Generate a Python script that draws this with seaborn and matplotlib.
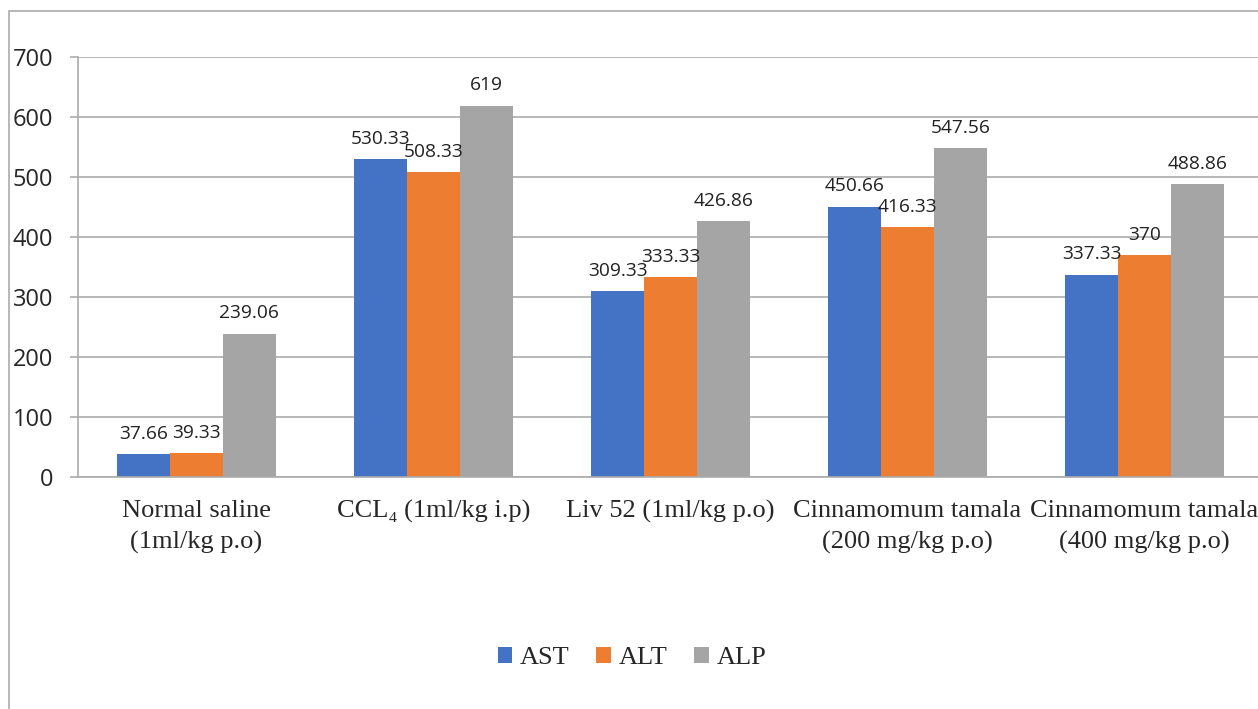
import matplotlib
matplotlib.use("Agg")
import matplotlib.pyplot as plt
import seaborn as sns
import pandas as pd
from matplotlib.patches import Rectangle, Patch

groups = ["Normal saline\n(1ml/kg p.o)", "CCL\u2084 (1ml/kg i.p)", "Liv 52 (1ml/kg p.o)",
          "Cinnamomum tamala\n(200 mg/kg p.o)", "Cinnamomum tamala\n(400 mg/kg p.o)"]
series = ["AST", "ALT", "ALP"]
ast = [37.66, 530.33, 309.33, 450.66, 337.33]
alt = [39.33, 508.33, 333.33, 416.33, 370]
alp = [239.06, 619, 426.86, 547.56, 488.86]
colors = ["#4472C4", "#ED7D31", "#A5A5A5"]
yticks = [0, 100, 200, 300, 400, 500, 600, 700]

rows = []
for name, vals in zip(series, [ast, alt, alp]):
    for g, v in zip(groups, vals):
        rows.append({"group": g, "enzyme": name, "value": v})
df = pd.DataFrame(rows)

sns.set_style("white")
plt.rcParams["font.family"] = ["Open Sans", "DejaVu Sans"]

fig = plt.figure(figsize=(12.58, 7.09), dpi=100)
ax = fig.add_axes([78 / 1258, 1 - 477 / 709, 1185 / 1258, 420 / 709])

sns.barplot(data=df, x="group", y="value", hue="enzyme", order=groups, hue_order=series,
            palette=colors, width=0.67, saturation=1, ax=ax, legend=False, linewidth=0)

for cont in ax.containers:
    ax.bar_label(cont, labels=[f"{b.get_height():g}" for b in cont], padding=8,
                 fontsize=13.8, color="#222222", family=["Open Sans", "DejaVu Sans"])

ax.set_xlim(-0.5, 4.5)
ax.set_ylim(0, 700)
ax.set_yticks(yticks)
ax.set_yticklabels([str(t) for t in yticks], fontsize=17)
ax.yaxis.grid(True, color="#ABABAB", linewidth=1.2)
ax.set_axisbelow(True)
ax.set_xlabel("")
ax.set_ylabel("")

ax.set_xticks(range(len(groups)))
ax.set_xticklabels(groups, fontsize=19, family=["Liberation Serif", "DejaVu Sans"],
                   linespacing=1.5)
ax.set_xticks([i - 0.5 for i in range(len(groups) + 1)], minor=True)
ax.tick_params(axis="x", which="major", length=0, pad=16.5)
ax.tick_params(axis="x", which="minor", length=5, color="#ABABAB", width=1.2, direction="out")
ax.tick_params(axis="y", length=6, color="#ABABAB", width=1.2, pad=12, left=True)

for s in ["top", "right"]:
    ax.spines[s].set_visible(False)
for s in ["left", "bottom"]:
    ax.spines[s].set_color("#ABABAB")
    ax.spines[s].set_linewidth(1.2)
ax.spines["left"].set_bounds(0, 700)

handles = [Patch(facecolor=c, edgecolor="none", label=s) for c, s in zip(colors, series)]
fig.legend(handles=handles, loc="center", bbox_to_anchor=(632 / 1258, 1 - 658 / 709),
           ncol=3, frameon=False, prop={"family": "Liberation Serif", "size": 19},
           handlelength=0.55, handleheight=0.55, handletextpad=0.3, columnspacing=1.0)

fig.patches.append(Rectangle((9 / 1258, -0.1), 1.2, 1.1 - 11 / 709, transform=fig.transFigure,
                             fill=False, edgecolor="#ABABAB", linewidth=1.2, clip_on=False))

fig.savefig("out.png", dpi=100)
